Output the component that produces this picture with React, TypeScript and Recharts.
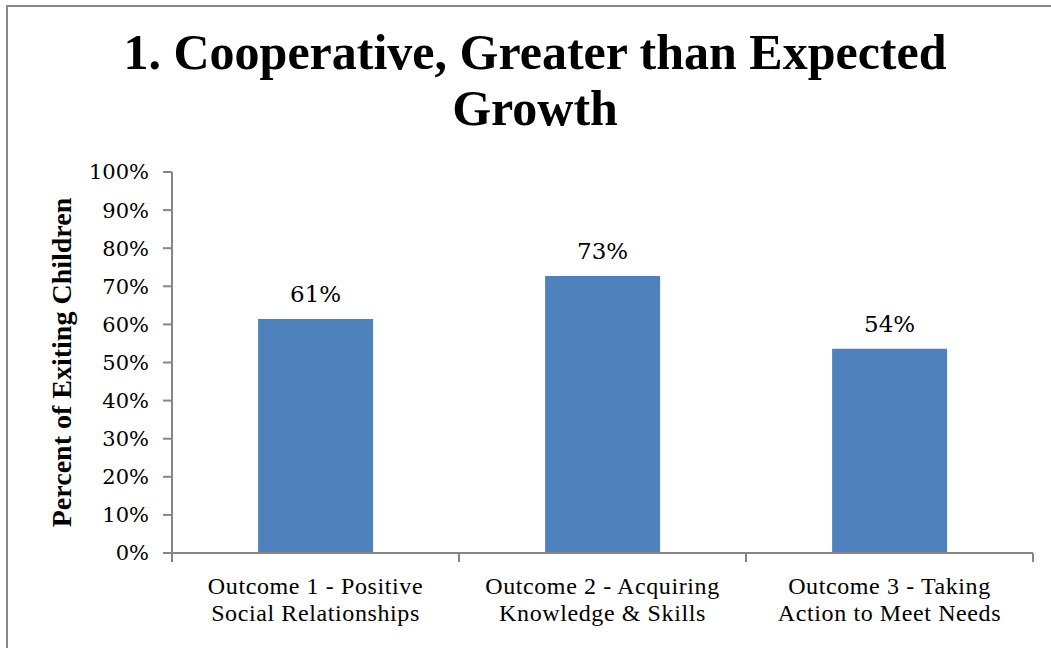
import React from 'react';
import { BarChart, Bar, XAxis, YAxis, LabelList } from 'recharts';

const categories = [
  'Outcome 1 - Positive Social Relationships',
  'Outcome 2 - Acquiring Knowledge & Skills',
  'Outcome 3 - Taking Action to Meet Needs',
];
const labelLine1 = ['Outcome 1 - Positive', 'Outcome 2 - Acquiring', 'Outcome 3 - Taking'];
const labelLine2 = ['Social Relationships', 'Knowledge & Skills', 'Action to Meet Needs'];
const values = [0.614, 0.727, 0.536];
const yTicks = [0, 0.1, 0.2, 0.3, 0.4, 0.5, 0.6, 0.7, 0.8, 0.9, 1];
// category boundaries (integers) and centres (halves) on a 0..3 scale
const bottomTicks = [0, 0.5, 1, 1.5, 2, 2.5, 3];

const data = categories.map((name, i) => ({ name, idx: i, value: values[i] }));

const AXIS = '#868686';
const SERIF = '"DejaVu Serif", "Liberation Serif", serif';

const pct = (v: number) => `${Math.round(v * 100)}%`;

const BottomTick = (props: any) => {
  const { x, y, payload } = props;
  const v = payload.value;
  if (Number.isInteger(v)) {
    return <line x1={x} x2={x} y1={y} y2={y + 9} stroke={AXIS} strokeWidth={2} />;
  }
  const i = Math.floor(v);
  const style = { fontFamily: '"Liberation Serif", serif', fontSize: 24, letterSpacing: 0.6 };
  return (
    <g>
      <text x={x} y={y + 41} textAnchor="middle" style={style} fill="#000">
        {labelLine1[i]}
      </text>
      <text x={x} y={y + 68} textAnchor="middle" style={style} fill="#000">
        {labelLine2[i]}
      </text>
    </g>
  );
};

const YLabel = (props: any) => {
  const { viewBox } = props;
  const cx = 61;
  const cy = viewBox.y + viewBox.height / 2;
  return (
    <text
      x={cx}
      y={cy}
      transform={`rotate(-90 ${cx} ${cy})`}
      textAnchor="middle"
      dominantBaseline="central"
      fontFamily='"Liberation Serif", serif'
      fontWeight="bold"
      fontSize={28}
      fill="#000"
    >
      Percent of Exiting Children
    </text>
  );
};

export default function App() {
  return (
    <div style={{ position: 'absolute', left: 0, top: 0, width: 1051, height: 648, background: '#fff' }}>
      <div
        style={{
          position: 'absolute',
          left: 6,
          top: 5,
          width: 1045,
          height: 643,
          borderTop: '2px solid #888',
          borderLeft: '2px solid #888',
        }}
      />
      <div
        style={{
          position: 'absolute',
          left: 0,
          top: 24,
          width: 1070,
          textAlign: 'center',
          fontFamily: '"Liberation Serif", serif',
          fontWeight: 'bold',
          fontSize: 50,
          lineHeight: '56px',
          color: '#000',
        }}
      >
        1. Cooperative, Greater than Expected
        <br />
        Growth
      </div>
      <div style={{ position: 'absolute', left: 0, top: 0 }}>
        <BarChart
          width={1051}
          height={648}
          data={data}
          margin={{ top: 172, right: 18, bottom: 0, left: 0 }}
          barCategoryGap="30%"
        >
          <XAxis dataKey="name" hide height={0} />
          <XAxis
            xAxisId="grid"
            type="number"
            dataKey="idx"
            domain={[0, 3]}
            ticks={bottomTicks}
            interval={0}
            height={95}
            tick={<BottomTick />}
            tickLine={false}
            tickSize={0}
            tickMargin={0}
            stroke={AXIS}
            strokeWidth={2}
            allowDataOverflow
          />
          <YAxis
            width={172}
            domain={[0, 1]}
            ticks={yTicks}
            tickFormatter={pct}
            tickSize={9}
            tickMargin={14}
            stroke={AXIS}
            strokeWidth={2}
            tick={{ fill: '#000', fontFamily: SERIF, fontSize: 21 }}
            label={<YLabel />}
          />
          <Bar dataKey="value" fill="#4F81BD" isAnimationActive={false}>
            <LabelList
              dataKey="value"
              position="top"
              offset={17}
              formatter={(v: any) => pct(v)}
              style={{ fill: '#000', fontFamily: SERIF, fontSize: 23 }}
            />
          </Bar>
        </BarChart>
      </div>
    </div>
  );
}
